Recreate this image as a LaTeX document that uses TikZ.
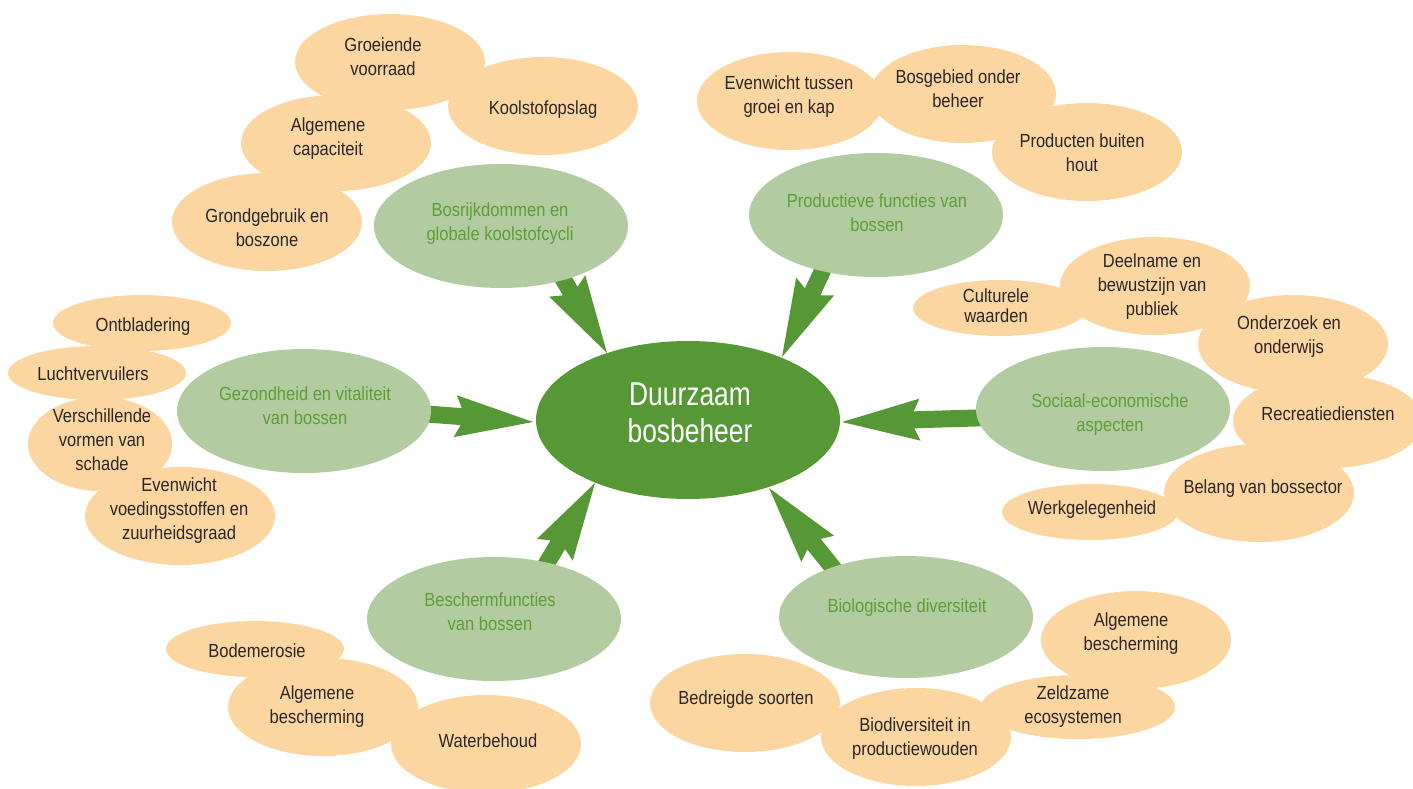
\documentclass[tikz,border=0pt]{standalone}
\usepackage{fontspec}
\setmainfont{Liberation Sans}[FakeStretch=0.87]
\newfontfamily\ctrfont{Liberation Sans}[FakeStretch=0.8]
\usetikzlibrary{calc,shapes.geometric}
\definecolor{obg}{HTML}{FCD6A1}
\definecolor{gbg}{HTML}{B2CBA0}
\definecolor{dgreen}{HTML}{559835}
\definecolor{gtxt}{HTML}{5E9E38}
\definecolor{tdark}{HTML}{2A2626}
\tikzset{
  obub/.style={ellipse, fill=obg, draw=none, inner sep=0pt},
  gbub/.style={ellipse, fill=gbg, draw=none, inner sep=0pt, minimum width=254pt, minimum height=124pt},
  otext/.style={align=center, text=tdark, inner sep=0pt,
    font=\fontsize{19}{24}\selectfont,
    execute at begin node=\strut, execute at end node=\strut},
  gtext/.style={otext, text=gtxt},
  ctext/.style={align=center, text=white, inner sep=0pt,
    font=\ctrfont\fontsize{33}{37}\selectfont,
    execute at begin node=\strut, execute at end node=\strut},
  arr/.style={fill=dgreen, draw=none}
}
\newcommand\garrow[2]{%
  \fill[arr] ($(#1)!8.5pt!90:(#2)$) -- ($(#2)!72pt!(#1)!8.5pt!90:(#2)$)
    -- ($(#2)!78pt!(#1)!21pt!90:(#2)$) -- (#2)
    -- ($(#2)!78pt!(#1)!21pt!-90:(#2)$) -- ($(#2)!72pt!(#1)!8.5pt!-90:(#2)$)
    -- ($(#1)!8.5pt!-90:(#2)$) -- cycle;}
\newcommand\ob[4]{\node[obub, minimum width=#3pt, minimum height=#4pt] (#1) at (#2) {};}
\begin{document}
\begin{tikzpicture}[x=1pt,y=-1pt]
\useasboundingbox (0,0) rectangle (1413,789);
% arrow coordinates
\coordinate (s1) at (505,181); \coordinate (t1) at (607,353);
\coordinate (s2) at (867,176); \coordinate (t2) at (782,357);
\coordinate (s3) at (1042,416); \coordinate (t3) at (842,422);
\coordinate (s4) at (334,407); \coordinate (t4) at (533,422);
\coordinate (s5) at (492,654); \coordinate (t5) at (595,483);
\coordinate (s6) at (894,644); \coordinate (t6) at (769,488);
\garrow{s1}{t1}
\garrow{s2}{t2}
\garrow{s3}{t3}
\garrow{s4}{t4}
\garrow{s5}{t5}
\garrow{s6}{t6}
% centre
\node[ellipse, fill=dgreen, inner sep=0pt, minimum width=304pt, minimum height=158pt] (ctr) at (688,420) {};
% green ellipses
\node[gbub] (bos) at (501,226) {};
\node[gbub] (prod) at (876,215) {};
\node[gbub] (soc) at (1103,409) {};
\node[gbub] (gez) at (304,411) {};
\node[gbub] (bes) at (494,619) {};
\node[gbub, minimum height=122pt] (bio) at (906,617) {};
% orange ellipses
\ob{gv}{390,62}{190}{96}
\ob{ko}{543,106}{190}{98}
\ob{ac}{336,143}{190}{96}
\ob{gb}{267,222}{190}{98}
\ob{etg}{790,101}{186}{98}
\ob{bob}{963,94}{186}{98}
\ob{pbh}{1087,152}{190}{98}
\ob{cw}{1000,308}{174}{56}
\ob{dbp}{1155,286}{190}{98}
\ob{oo}{1293,344}{190}{98}
\ob{rd}{1328,421}{190}{94}
\ob{bvb}{1259,493}{190}{98}
\ob{wg}{1090,512}{176}{56}
\ob{ont}{142,323}{178}{56}
\ob{lv}{97,373}{178}{54}
\ob{vvs}{100,444}{144}{94}
\ob{evz}{180,516}{190}{98}
\ob{bod}{255,649}{178}{56}
\ob{abl}{323,707}{190}{98}
\ob{wb}{486,744}{190}{98}
\ob{bs}{745,703}{190}{98}
\ob{bip}{916,737}{190}{98}
\ob{abr}{1136,640}{190}{98}
\ob{zde}{1078,707}{194}{64}
% texts
\node[ctext] (ctrt) at (690,418) {Duurzaam\\bosbeheer};
\node[gtext] (bost) at (500,225) {Bosrijkdommen en\\globale koolstofcycli};
\node[gtext] (prodt) at (877,216) {Productieve functies van\\bossen};
\node[gtext] (soct) at (1110,416) {Sociaal-economische\\aspecten};
\node[gtext] (gezt) at (305,409) {Gezondheid en vitaliteit\\van bossen};
\node[gtext] (best) at (490,615) {Beschermfuncties\\van bossen};
\node[gtext] (biot) at (907,608) {Biologische diversiteit};
\node[otext] (gvt) at (383,60) {Groeiende\\voorraad};
\node[otext] (kot) at (543,110) {Koolstofopslag};
\node[otext] (act) at (328,140) {Algemene\\capaciteit};
\node[otext] (gbt) at (267,231) {Grondgebruik en\\boszone};
\node[otext] (etgt) at (789,98) {Evenwicht tussen\\groei en kap};
\node[otext] (bobt) at (958,92) {Bosgebied onder\\beheer};
\node[otext] (pbht) at (1082,156) {Producten buiten\\hout};
\node[otext, font=\fontsize{19}{20}\selectfont] (cwt) at (996,309) {Culturele\\waarden};
\node[otext] (dbpt) at (1152,288) {Deelname en\\bewustzijn van\\publiek};
\node[otext] (oot) at (1289,338) {Onderzoek en\\onderwijs};
\node[otext] (rdt) at (1328,416) {Recreatiediensten};
\node[otext] (bvbt) at (1263,489) {Belang van bossector};
\node[otext] (wgt) at (1092,510) {Werkgelegenheid};
\node[otext] (ontt) at (143,327) {Ontbladering};
\node[otext] (lvt) at (93,376) {Luchtvervuilers};
\node[otext] (vvst) at (102,443) {Verschillende\\vormen van\\schade};
\node[otext] (evzt) at (179,512) {Evenwicht\\voedingsstoffen en\\zuurheidsgraad};
\node[otext] (bodt) at (257,653) {Bodemerosie};
\node[otext] (ablt) at (317,708) {Algemene\\bescherming};
\node[otext] (wbt) at (488,743) {Waterbehoud};
\node[otext] (bst) at (746,700) {Bedreigde soorten};
\node[otext] (bipt) at (915,740) {Biodiversiteit in\\productiewouden};
\node[otext] (abrt) at (1131,635) {Algemene\\bescherming};
\node[otext] (zdet) at (1073,708) {Zeldzame\\ecosystemen};
\end{tikzpicture}
\end{document}
